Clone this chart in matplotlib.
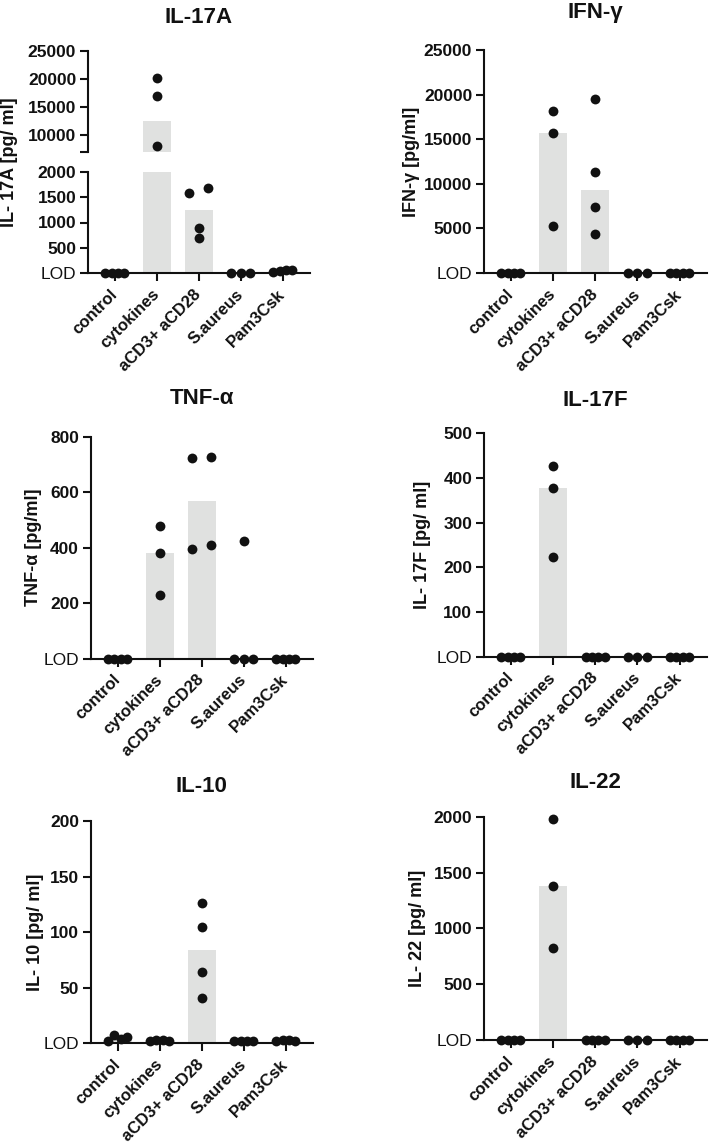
import numpy as np
import matplotlib
matplotlib.use("Agg")
import matplotlib.pyplot as plt

plt.rcParams['font.family'] = ['Liberation Sans', 'DejaVu Sans']

groups = ["control", "cytokines", "aCD3+ aCD28", "S.aureus", "Pam3Csk"]

il17a_pts = [[0, 0, 0, 0], [20100, 16900, 8100], [1590, 1690, 887, 690], [0, 0, 0], [15, 45, 55, 50]]
il17a_bar = [0, 12500, 1240, 0, 0]

ifng_pts = [[0, 0, 0, 0], [18150, 15650, 5250], [19550, 11300, 7350, 4350], [0, 0, 0], [0, 0, 0, 0]]
ifng_bar = [0, 15650, 9300, 0, 0]

tnfa_pts = [[0, 0, 0, 0], [480, 380, 230], [724, 728, 395, 411], [0, 0, 0, 425], [0, 0, 0, 0]]
tnfa_bar = [0, 380, 567, 0, 0]

il17f_pts = [[0, 0, 0, 0], [427, 377, 223], [0, 0, 0, 0], [0, 0, 0], [0, 0, 0, 0]]
il17f_bar = [0, 377, 0, 0, 0]

il10_pts = [[2.1, 7.5, 3.6, 5.4], [2.5, 3.0, 3.0, 2.5], [126, 105, 64, 41], [2.5, 2.5, 2.5, 2.5], [2.5, 3.0, 3.0, 2.5]]
il10_bar = [4.5, 2.8, 84, 2.5, 2.8]

il22_pts = [[0, 0, 0, 0], [1980, 1382, 824], [0, 0, 0, 0], [0, 0, 0], [0, 0, 0, 0]]
il22_bar = [0, 1382, 0, 0, 0]

W, H = 711, 1146
fig = plt.figure(figsize=(W / 100, H / 100), dpi=100)

BAR_COLOR = '#e0e1e0'
DOT = 50
LW = 1.5
TICK_FS = 12.5
XL_FS = 12
YL_FS = 13
TITLE_FS = 16


def add_ax(x0, y0, x1, y1):
    return fig.add_axes([x0 / W, 1 - y1 / H, (x1 - x0) / W, (y1 - y0) / H])


def swarm_offsets(vals, px_per_unit, thresh=8.0, width=0.45):
    vals = np.asarray(vals, float)
    offsets = np.zeros(len(vals))
    if len(vals) == 0:
        return offsets
    order = np.argsort(vals, kind='stable')
    clusters, cur = [], [order[0]]
    for i in order[1:]:
        if (vals[i] - vals[cur[-1]]) * px_per_unit < thresh:
            cur.append(i)
        else:
            clusters.append(cur)
            cur = [i]
    clusters.append(cur)
    for c in clusters:
        n = len(c)
        if n > 1:
            offs = np.linspace(-width / 2, width / 2, n)
            for k, idx in enumerate(sorted(c)):
                offsets[idx] = offs[k]
    return offsets


def style_ax(ax, ylim, ticks, labels, show_x=True):
    ax.set_xlim(-0.64, 4.65)
    ax.set_ylim(*ylim)
    for s in ['top', 'right']:
        ax.spines[s].set_visible(False)
    for s in ['left', 'bottom']:
        ax.spines[s].set_linewidth(LW)
        ax.spines[s].set_color('#111111')
    ax.set_yticks(ticks)
    ax.set_yticklabels(labels)
    ax.tick_params(axis='y', direction='out', length=5.5, width=LW, pad=3,
                   labelsize=TICK_FS, colors='#111111')
    for lbl, t in zip(ax.get_yticklabels(), labels):
        lbl.set_fontweight('normal' if t == 'LOD' else 'bold')
    if show_x:
        ax.set_xticks(range(len(groups)))
        ax.set_xticklabels(groups, rotation=45, ha='right', va='center',
                           rotation_mode='anchor', fontweight='bold', fontsize=XL_FS)
        ax.tick_params(axis='x', direction='out', length=5.5, width=LW, pad=8,
                       colors='#111111')
    else:
        ax.spines['bottom'].set_visible(False)
        ax.set_xticks([])
    ax.patch.set_alpha(0)


def draw_data(ax, pts, bars, ylim, axh_px):
    x = np.arange(len(groups))
    ax.bar(x, bars, width=0.67, color=BAR_COLOR, zorder=1, linewidth=0)
    ppu = axh_px / (ylim[1] - ylim[0])
    for i, vals in enumerate(pts):
        v = np.array([p for p in vals if ylim[0] <= p <= ylim[1]], float)
        if len(v) == 0:
            continue
        off = swarm_offsets(v, ppu)
        ax.scatter(i + off, v, s=DOT, color='#111111', zorder=4, clip_on=False,
                   linewidths=0)


def fmt(t):
    return 'LOD' if t == 0 else str(int(t))


def panel(x0, y0, x1, y1, pts, bars, ymax, step, title, ylabel, title_base, ylab_x):
    ax = add_ax(x0, y0, x1, y1)
    ticks = list(np.arange(0, ymax + step / 2, step))
    style_ax(ax, (0, ymax), ticks, [fmt(t) for t in ticks])
    draw_data(ax, pts, bars, (0, ymax), y1 - y0)
    fig.text((x0 + x1) / 2 / W, 1 - title_base / H, title, ha='center', va='baseline',
             fontsize=TITLE_FS, fontweight='bold', color='#111111')
    fig.text(ylab_x / W, 1 - (y0 + y1) / 2 / H, ylabel, rotation=90, ha='center',
             va='center', fontsize=YL_FS, fontweight='bold', color='#111111')
    return ax


# ---- IL-17A (broken axis) ----
ax_up = add_ax(88, 51, 310, 152)
ax_lo = add_ax(88, 172, 310, 273)
up_ticks = [7000, 10000, 15000, 20000, 25000]
style_ax(ax_up, (7000, 25000), up_ticks, [''] + [str(t) for t in up_ticks[1:]], show_x=False)
lo_ticks = [0, 500, 1000, 1500, 2000]
style_ax(ax_lo, (0, 2000), lo_ticks, [fmt(t) for t in lo_ticks])
draw_data(ax_up, il17a_pts, il17a_bar, (7000, 25000), 101)
draw_data(ax_lo, il17a_pts, il17a_bar, (0, 2000), 101)
fig.text(199 / W, 1 - 23 / H, 'IL-17A', ha='center', va='baseline', fontsize=TITLE_FS,
         fontweight='bold', color='#111111')
fig.text(10 / W, 1 - 162 / H, 'IL- 17A [pg/ ml]', rotation=90, ha='center', va='center',
         fontsize=YL_FS, fontweight='bold', color='#111111')

panel(484, 50, 707, 273, ifng_pts, ifng_bar, 25000, 5000, 'IFN-γ', 'IFN-γ [pg/ml]', 18, 411)
panel(90.7, 436.7, 313, 658.7, tnfa_pts, tnfa_bar, 800, 200, 'TNF-α', 'TNF-α [pg/ml]', 404, 33)
panel(484, 433.3, 707, 656.7, il17f_pts, il17f_bar, 500, 100, 'IL-17F', 'IL- 17F [pg/ ml]', 406, 423)
panel(90.7, 821, 313, 1043.3, il10_pts, il10_bar, 200, 50, 'IL-10', 'IL- 10 [pg/ ml]', 792, 35)
panel(484, 816.7, 707, 1040, il22_pts, il22_bar, 2000, 500, 'IL-22', 'IL- 22 [pg/ ml]', 788, 417)

fig.savefig('out.png', dpi=100, facecolor='white')
